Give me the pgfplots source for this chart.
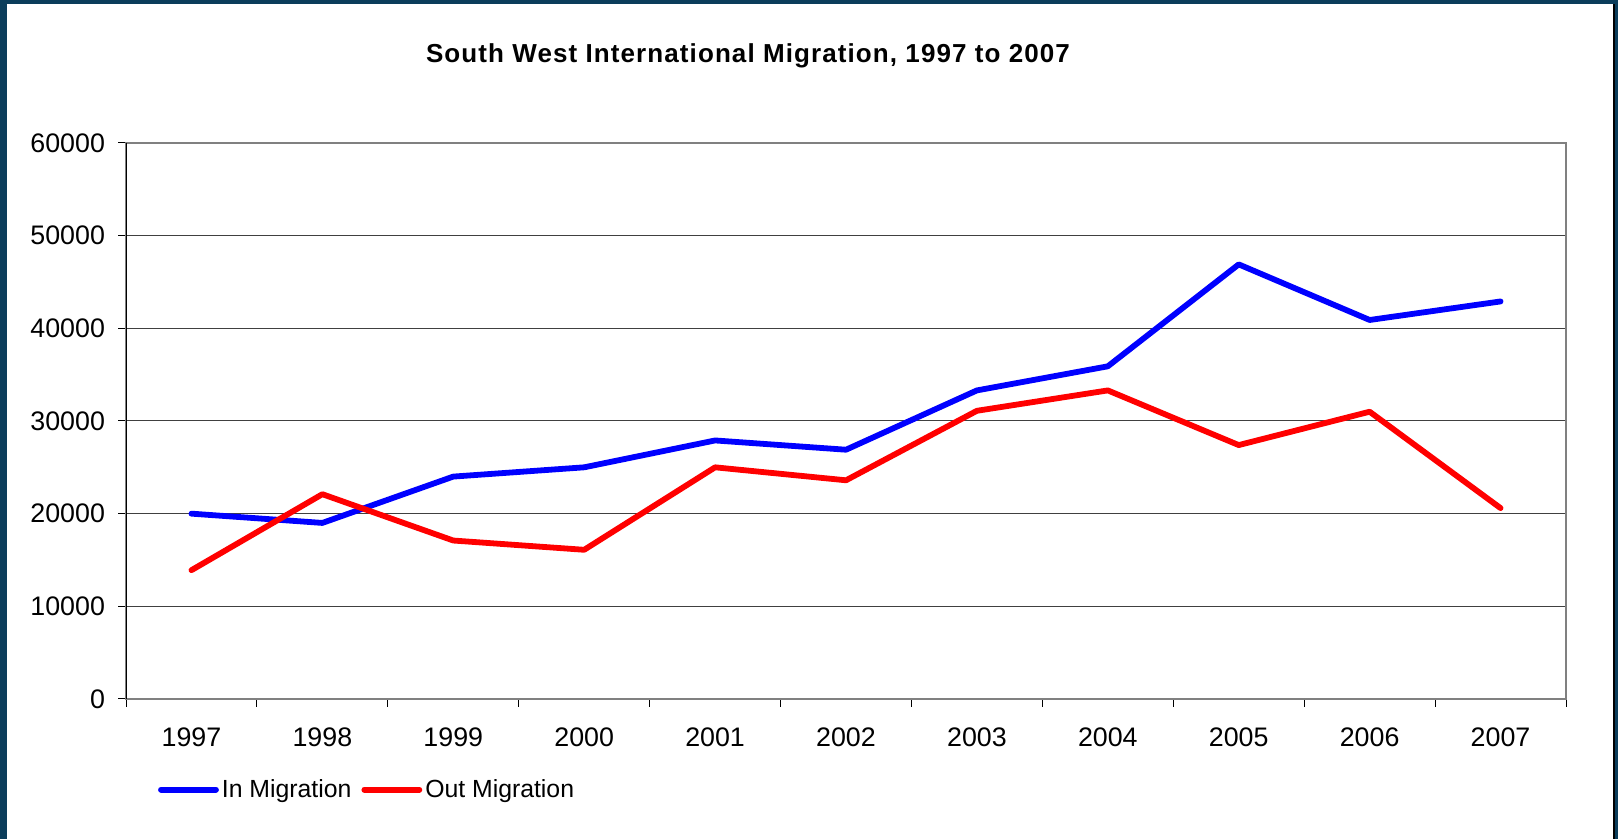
\documentclass[border=0pt]{standalone}
\usepackage{fontspec}
\setmainfont{Liberation Sans}
\usepackage{pgfplots}
\pgfplotsset{compat=1.18}
\definecolor{framecol}{HTML}{0B3D5B}
\definecolor{inmig}{HTML}{0000FF}
\definecolor{outmig}{HTML}{FF0000}

\begin{document}
\begin{tikzpicture}[x=1pt,y=1pt]
\useasboundingbox (0,0) rectangle (809,419.5);
\fill[framecol] (0,0) rectangle (809,419.5);
\fill[white] (3.5,0) rectangle (806.5,417.5);
\fill[black] (806.5,0) rectangle (807.5,417.5);
\node[font=\bfseries\fontsize{13}{15}\selectfont\addfontfeatures{LetterSpace=4.2}] at (374,391.5) {South West International Migration, 1997 to 2007};
\begin{axis}[
  at={(63pt,70pt)}, anchor=south west,
  scale only axis, width=720pt, height=278pt,
  xmin=0.5, xmax=11.5, ymin=0, ymax=60000,
  xtick={0.5,1.5,...,11.5},
  x tick label as interval,
  xticklabels={1997,1998,1999,2000,2001,2002,2003,2004,2005,2006,2007},
  ytick={0,10000,...,60000},
  scaled y ticks=false,
  /pgf/number format/1000 sep={},
  /pgf/number format/assume math mode=true,
  tick align=outside, major tick length=4pt,
  xtick pos=bottom, ytick pos=left,
  tick style={black, line width=0.5pt},
  ticklabel style={font=\fontsize{13.4}{15}\selectfont},
  xticklabel style={yshift=-7pt},
  yticklabel style={xshift=-3pt},
  ymajorgrids, grid style={black!75, line width=0.5pt},
  axis line style={gray, line width=0.8pt},
  legend style={at={(0.022,-0.163)}, anchor=west, draw=none, fill=none,
    inner sep=0pt, font=\fontsize{12.4}{15}\selectfont,
    nodes={inner sep=1.5pt},
    /tikz/every even column/.append style={column sep=3.5pt}},
  legend columns=2,
  legend image code/.code={\draw[#1] (0pt,0pt) -- (27.5pt,0pt);},
]
\draw[black, line width=0.6pt] (rel axis cs:0,0) -- (rel axis cs:0,1);
\addplot[inmig, line width=2.9pt, line cap=round, line join=round] coordinates {
  (1,20000) (2,19000) (3,24000) (4,25000) (5,27900) (6,26900)
  (7,33300) (8,35900) (9,46900) (10,40900) (11,42900)
};
\addlegendentry{In Migration}
\addplot[outmig, line width=2.9pt, line cap=round, line join=round] coordinates {
  (1,13900) (2,22100) (3,17100) (4,16100) (5,25000) (6,23600)
  (7,31100) (8,33300) (9,27400) (10,31000) (11,20600)
};
\addlegendentry{Out Migration}
\end{axis}
\end{tikzpicture}
\end{document}
